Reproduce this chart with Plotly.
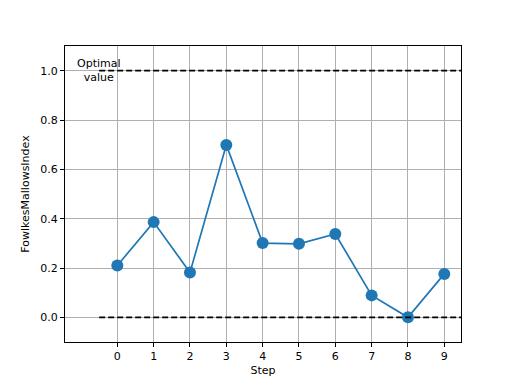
import plotly.graph_objects as go

steps = [0, 1, 2, 3, 4, 5, 6, 7, 8, 9]
fmi = [0.210, 0.386, 0.182, 0.699, 0.301, 0.298, 0.338, 0.089, 0.0, 0.176]
optimal_value = 1.0
baseline_value = 0.0
hline_x = [-0.5, 9.5]

fig = go.Figure()
fig.add_trace(go.Scatter(
    x=steps, y=fmi, mode="lines+markers",
    line=dict(color="#1f77b4", width=1.7),
    marker=dict(color="#1f77b4", size=12),
    showlegend=False, hoverinfo="skip"))
for v in (optimal_value, baseline_value):
    fig.add_trace(go.Scatter(
        x=hline_x, y=[v, v], mode="lines",
        line=dict(color="black", width=1.7, dash="6px,3px"),
        showlegend=False, hoverinfo="skip"))

fig.add_annotation(x=-0.5, y=optimal_value, text="Optimal<br>value",
                   showarrow=False, xanchor="center", yanchor="middle",
                   font=dict(family="DejaVu Sans", size=11, color="black"))

axis_common = dict(
    showline=True, linecolor="black", linewidth=1, mirror=True,
    showgrid=True, gridcolor="#b0b0b0", gridwidth=1,
    ticks="outside", ticklen=4, tickcolor="black", tickwidth=1,
    zeroline=False, automargin=False,
    tickfont=dict(family="DejaVu Sans", size=11, color="black"),
)
fig.update_xaxes(range=[-1.44, 9.46], tickvals=steps,
                 title=dict(text="Step", standoff=4,
                            font=dict(family="DejaVu Sans", size=11, color="black")),
                 **axis_common)
fig.update_yaxes(range=[-0.1, 1.1], tickvals=[0, 0.2, 0.4, 0.6, 0.8, 1.0],
                 tickformat=".1f",
                 title=dict(text="FowlkesMallowsIndex", standoff=8,
                            font=dict(family="DejaVu Sans", size=11, color="black")),
                 **axis_common)
fig.update_layout(
    width=504, height=376,
    margin=dict(l=57, r=51, t=38, b=42),
    plot_bgcolor="white", paper_bgcolor="white",
    font=dict(family="DejaVu Sans", size=11, color="black"),
)
fig.write_html("out.html")
